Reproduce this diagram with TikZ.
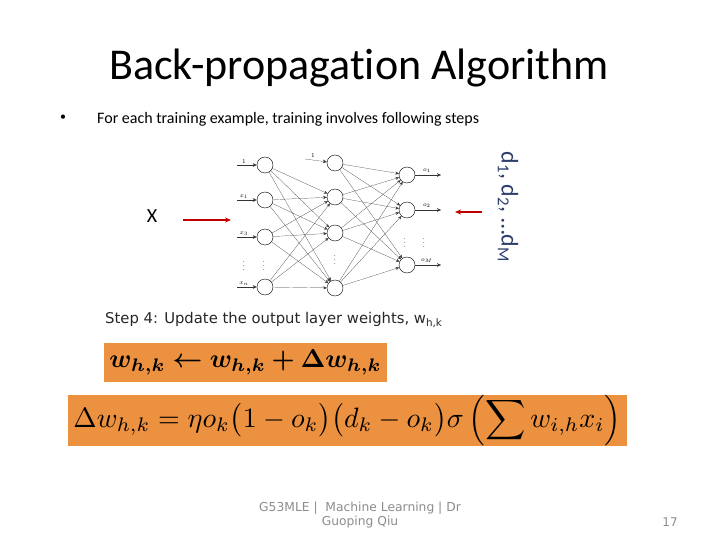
\documentclass[tikz,border=0pt]{standalone}
\usepackage{fontspec}
\usepackage{amsmath}
\usepackage{bm}
\setmainfont[Ligatures=NoCommon]{Carlito}
\newfontfamily\verdfont{DejaVu Sans}
\usetikzlibrary{arrows.meta,positioning,calc}
\definecolor{boxorange}{HTML}{EC9140}
\definecolor{arrowred}{HTML}{C00000}
\definecolor{dnavy}{HTML}{2E3F6E}
\definecolor{footgray}{HTML}{8C8C8C}

\begin{document}
\begin{tikzpicture}[
  x=1pt,y=-1pt,
  neuron/.style={circle,draw,thin,minimum size=16pt,inner sep=0pt},
  syn/.style={-{Stealth[length=3.5pt,width=3pt]},gray!40!black,very thin},
  io/.style={-{Stealth[length=4pt,width=3.5pt]},black!80,very thin},
  tiny/.style={font=\fontsize{6}{6}\selectfont,inner sep=1pt},
  red/.style={-{Stealth[length=6pt,width=5pt]},arrowred,line width=1.4pt},
  eqbox/.style={rectangle,fill=boxorange,inner sep=0pt,align=center}
]
\useasboundingbox (0,0) rectangle (720,540);
% title and bullet
\node (title) at (359,68) {\fontsize{44}{46}\selectfont Back-propagation Algorithm};
\node (bullet) at (63,118) {\fontsize{12}{12}\selectfont\textbullet};
\node[anchor=west,inner sep=0pt] (intro) at (97,119) {\fontsize{16}{16}\selectfont For each training example, training involves following steps};
% network layers
\foreach \y [count=\i] in {165,200,237,287}
  \node[neuron] (in\i) at (265,\y) {};
\foreach \y [count=\i] in {163,197,233,288}
  \node[neuron] (hd\i) at (335,\y) {};
\foreach \y [count=\i] in {175,210,265}
  \node[neuron] (out\i) at (407,\y) {};
% inputs
\foreach \y/\t [count=\i] in {165/1,200/x_1,237/x_3,287/x_n}{
  \coordinate (src\i) at (237,\y);
  \node[tiny,anchor=south] at (244,\y) {$\t$};
  \draw[io] (src\i) -- (in\i);
}
\coordinate (bias) at (305,159);
\node[tiny,anchor=south] at (313,159) {$1$};
\draw[io] (bias) -- (hd1);
% connections
\foreach \i in {1,...,4}
  \foreach \j in {2,3,4}
    \draw[syn] (in\i) -- (hd\j);
\foreach \i in {1,...,4}
  \foreach \j in {1,2,3}
    \draw[syn] (hd\i) -- (out\j);
% outputs
\foreach \t [count=\i] in {o_1,o_2,o_M}{
  \coordinate (dst\i) at (441,0 |- out\i);
  \draw[io] (out\i) -- (dst\i);
  \node[tiny,anchor=south] at ($(out\i.east)!0.45!(dst\i)+(0,-1)$) {$\t$};
}
% dots
\node[tiny] at (244,263) {$\vdots$};
\node[tiny] at (264,263) {$\vdots$};
\node[tiny] at (335,257) {$\vdots$};
\node[tiny] at (405,240) {$\vdots$};
\node[tiny] at (424,240) {$\vdots$};
% targets and input
\node (xin) at (152,216) {\fontsize{20}{20}\selectfont X};
\coordinate (xa) at (183,220);
\coordinate (xb) at (231,220);
\draw[red] (xa) -- (xb);
\coordinate (da) at (482,212);
\coordinate (db) at (455,212);
\draw[red] (da) -- (db);
\node[rotate=-90,text=dnavy] (dlab) at (508,207) {\fontsize{24}{24}\selectfont d\textsubscript{1}, d\textsubscript{2}, \dots d\textsubscript{M}};
% step 4
\node[anchor=west,inner sep=0pt,text=black!85] (step) at (105,320) {\verdfont\fontsize{14.8}{15}\selectfont Step 4: Update the output layer weights, w\textsubscript{h,k}};
\node[eqbox,minimum width=283pt,minimum height=39pt] (upd) at (245.5,362.5)
  {\resizebox{272pt}{!}{$\bm{w_{h,k} \leftarrow w_{h,k} + \Delta w_{h,k}}$}};
\node[eqbox,minimum width=559pt,minimum height=41pt] (delta) at (347.5,420.5)
  {\resizebox{548pt}{!}{$\Delta w_{h,k} = \eta o_k \big(1-o_k\big)\big(d_k-o_k\big)\sigma\left(\displaystyle\sum w_{i,h}x_i\right)$}};
% footer
\node[align=center,text=footgray] (foot) at (360,515) {\verdfont\fontsize{12.3}{14}\selectfont G53MLE |\ \ Machine Learning | Dr\\\verdfont\fontsize{12.3}{14}\selectfont Guoping Qiu};
\node[text=footgray] (page) at (670,522) {\verdfont\fontsize{12}{14}\selectfont 17};
\end{tikzpicture}
\end{document}
